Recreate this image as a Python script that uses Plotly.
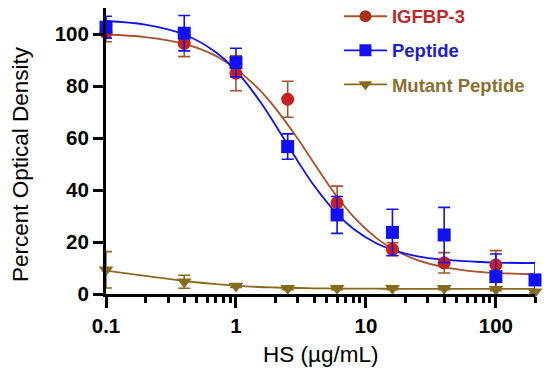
import plotly.graph_objects as go

# ---- data ----
conc = [0.1, 0.4, 1, 2.5, 6, 16, 40, 100, 200]

igfbp_x = [0.1, 0.4, 1, 2.5, 6, 16, 40, 100]
igfbp_y = [100.5, 96.4, 84.9, 74.9, 35.1, 17.2, 12.0, 11.2]
igfbp_err = [3.5, 5.1, 6.7, 6.9, 6.4, 2.5, 3.9, 5.5]

peptide_y = [102.6, 100.3, 89.0, 56.7, 30.4, 23.7, 22.7, 6.7, 5.4]
peptide_err = [4.2, 6.8, 5.5, 4.9, 7.1, 8.9, 10.6, 8.7, 6.6]

mutant_y = [9.3, 4.7, 3.1, 2.2, 2.2, 2.2, 2.2, 1.8, 0.9]
mutant_err = [7.0, 2.5, 0.6, 0.5, 0.5, 0.5, 0.5, 0.5, 0.5]

# fitted curves
curve_x = [0.1, 0.2, 0.4, 0.7, 1, 1.5, 2, 3, 4, 6, 8, 12, 16, 25, 40, 70, 100, 200]
igfbp_curve = [99.8, 98.8, 96.2, 91.6, 86.5, 78.8, 71.6, 59.6, 50.2, 37.4, 29.8, 21.6, 17.4, 13.0, 10.3, 8.6, 8.1, 7.6]
peptide_curve = [105.0, 103.6, 99.8, 93.0, 85.9, 74.7, 65.2, 51.0, 41.6, 30.8, 25.1, 19.5, 17.0, 14.5, 13.2, 12.4, 12.1, 11.9]
mutant_curve = [9.0, 7.0, 5.0, 3.8, 3.2, 2.7, 2.5, 2.3, 2.2, 2.1, 2.1, 2.05, 2.0, 2.0, 2.0, 2.0, 2.0, 2.0]

x_tickvals = [0.1, 1, 10, 100]
x_ticktext = ["0.1", "1", "10", "100"]
x_minor = [0.2, 0.3, 0.4, 0.5, 0.6, 0.7, 0.8, 0.9, 2, 3, 4, 5, 6, 7, 8, 9,
           20, 30, 40, 50, 60, 70, 80, 90, 200]
y_tickvals = [0, 20, 40, 60, 80, 100]

names = ["IGFBP-3", "Peptide", "Mutant Peptide"]

# ---- styles ----
RED_M = "#c8201c"
RED_L = "#a8522a"
BLUE = "#1010f0"
BLUE_T = "#1c1cd0"
OLIVE = "#876a1c"
OLIVE_T = "#8a7030"
FONT = "Liberation Sans, Arial, sans-serif"

fig = go.Figure()

# curves
fig.add_trace(go.Scatter(x=curve_x, y=igfbp_curve, mode="lines", line=dict(color=RED_L, width=1.8, shape="spline"),
                         showlegend=False, hoverinfo="skip"))
fig.add_trace(go.Scatter(x=curve_x, y=peptide_curve, mode="lines", line=dict(color=BLUE, width=1.8, shape="spline"),
                         showlegend=False, hoverinfo="skip"))
fig.add_trace(go.Scatter(x=curve_x, y=mutant_curve, mode="lines", line=dict(color=OLIVE, width=1.8, shape="spline"),
                         showlegend=False, hoverinfo="skip"))

# points with error bars
fig.add_trace(go.Scatter(x=igfbp_x, y=igfbp_y, mode="markers",
                         marker=dict(symbol="circle", size=13, color=RED_M, line=dict(width=0)),
                         error_y=dict(type="data", array=igfbp_err, color=RED_L, thickness=1.6, width=6),
                         showlegend=False, cliponaxis=False))
fig.add_trace(go.Scatter(x=conc, y=peptide_y, mode="markers",
                         marker=dict(symbol="square", size=13, color=BLUE, line=dict(width=0)),
                         error_y=dict(type="data", array=peptide_err, color=BLUE, thickness=1.6, width=6),
                         showlegend=False, cliponaxis=False))
fig.add_trace(go.Scatter(x=conc, y=mutant_y, mode="markers",
                         marker=dict(symbol="triangle-down", size=13, color=OLIVE, line=dict(width=0)),
                         error_y=dict(type="data", array=mutant_err, color=OLIVE, thickness=1.6, width=6),
                         showlegend=False, cliponaxis=False))

# legend entries
leg_cols = [(RED_L, "#a83018", "circle"), (BLUE, BLUE, "square"), (OLIVE, OLIVE, "triangle-down")]
text_cols = ["#c0282a", BLUE_T, OLIVE_T]
for nm, (lc, mc, sym), tc in zip(names, leg_cols, text_cols):
    fig.add_trace(go.Scatter(x=[None], y=[None], mode="lines+markers",
                             name='<span style="color:%s">%s</span>' % (tc, nm),
                             legendgroup=nm,
                             line=dict(color=lc, width=1.8),
                             marker=dict(symbol=sym, size=12, color=mc)))

fig.update_layout(
    width=550, height=376,
    margin=dict(l=106, r=15, t=8, b=82, autoexpand=False),
    paper_bgcolor="white", plot_bgcolor="white",
    font=dict(family=FONT, color="black"),
    showlegend=True,
    legend=dict(x=0.543, y=1.036, xanchor="left", yanchor="top",
                bgcolor="rgba(0,0,0,0)", itemwidth=43, tracegroupgap=7,
                font=dict(size=18.5, family=FONT, weight="bold")),
    xaxis=dict(type="log", range=[-1, 2.30103], showgrid=False, zeroline=False,
               showline=True, linewidth=3, linecolor="black", automargin=False,
               ticks="outside", ticklen=11, tickwidth=2.5, tickcolor="black",
               tickvals=x_tickvals, ticktext=x_ticktext,
               tickfont=dict(size=20.5, family=FONT, weight="bold"),
               minor=dict(ticks="outside", ticklen=6, tickwidth=2.5, tickcolor="black",
                          tickvals=x_minor, showgrid=False)),
    yaxis=dict(range=[0, 110], showgrid=False, zeroline=False,
               showline=True, linewidth=3, linecolor="black", automargin=False,
               ticks="outside", ticklen=10, tickwidth=2.5, tickcolor="black",
               tickvals=y_tickvals,
               tickfont=dict(size=20.5, family=FONT, weight="bold")),
    annotations=[
        dict(text="Percent Optical Density", xref="paper", yref="paper",
             x=-0.2005, y=0.4545, xanchor="center", yanchor="middle", textangle=-90,
             showarrow=False, font=dict(size=22.5, family=FONT, color="black")),
        dict(text="HS (µg/mL)", xref="paper", yref="paper",
             x=0.5, y=-0.2098, xanchor="center", yanchor="middle",
             showarrow=False, font=dict(size=22.5, family=FONT, color="black")),
    ],
)

fig.write_html("out.html", config={"displayModeBar": False},
               post_script="document.body.style.margin='0';")
